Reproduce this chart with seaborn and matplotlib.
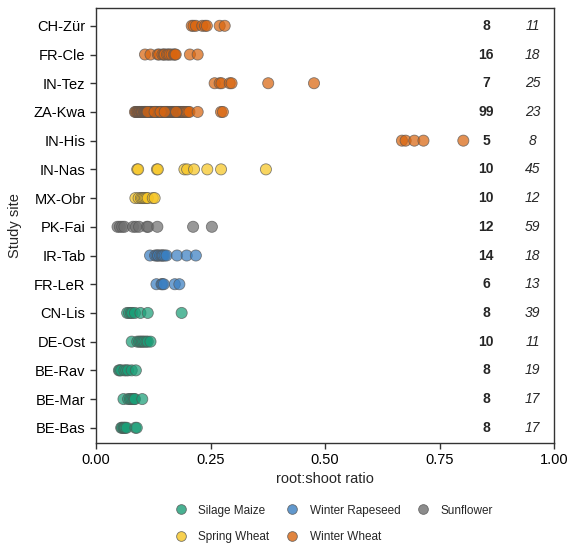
import matplotlib
matplotlib.use("Agg")
import matplotlib.pyplot as plt
import seaborn as sns
import pandas as pd
from matplotlib.lines import Line2D

sites = ["CH-Zür", "FR-Cle", "IN-Tez", "ZA-Kwa", "IN-His", "IN-Nas", "MX-Obr",
         "PK-Fai", "IR-Tab", "FR-LeR", "CN-Lis", "DE-Ost", "BE-Rav", "BE-Mar", "BE-Bas"]
site_crop = ["Winter Wheat", "Winter Wheat", "Winter Wheat", "Winter Wheat", "Winter Wheat",
             "Spring Wheat", "Spring Wheat", "Sunflower", "Winter Rapeseed", "Winter Rapeseed",
             "Silage Maize", "Silage Maize", "Silage Maize", "Silage Maize", "Silage Maize"]
n_obs = [8, 16, 7, 99, 5, 10, 10, 12, 14, 6, 8, 10, 8, 8, 8]
cv_vals = [11, 18, 25, 23, 8, 45, 12, 59, 18, 13, 39, 11, 19, 17, 17]

crops = ["Silage Maize", "Winter Rapeseed", "Sunflower", "Spring Wheat", "Winter Wheat"]
crop_colors = ["#1b9e77", "#3a7fc1", "#707070", "#f6c523", "#d9650f"]

ch_zur = [0.209, 0.213, 0.218, 0.232, 0.238, 0.242, 0.270, 0.281]
fr_cle = [0.107, 0.119, 0.135, 0.138, 0.145, 0.148, 0.150, 0.155, 0.158, 0.161,
          0.165, 0.170, 0.172, 0.174, 0.205, 0.222]
in_tez = [0.259, 0.270, 0.274, 0.292, 0.296, 0.376, 0.476]
za_kwa = [0.085, 0.087, 0.089, 0.091, 0.092, 0.094, 0.095, 0.096, 0.098, 0.099,
          0.100, 0.101, 0.102, 0.104, 0.105, 0.106, 0.107, 0.108, 0.109, 0.110,
          0.111, 0.112, 0.113, 0.115, 0.116, 0.117, 0.118, 0.119, 0.120, 0.121,
          0.122, 0.123, 0.125, 0.126, 0.127, 0.128, 0.129, 0.130, 0.131, 0.132,
          0.133, 0.134, 0.136, 0.137, 0.138, 0.139, 0.140, 0.141, 0.142, 0.143,
          0.144, 0.146, 0.147, 0.148, 0.149, 0.150, 0.151, 0.152, 0.153, 0.154,
          0.155, 0.156, 0.157, 0.158, 0.160, 0.161, 0.162, 0.163, 0.165, 0.166,
          0.168, 0.169, 0.171, 0.172, 0.173, 0.175, 0.176, 0.178, 0.180, 0.181,
          0.183, 0.185, 0.186, 0.188, 0.190, 0.191, 0.193, 0.196, 0.198, 0.201,
          0.204, 0.113, 0.128, 0.141, 0.150, 0.175, 0.222, 0.273, 0.277]
in_his = [0.668, 0.676, 0.695, 0.715, 0.802]
in_nas = [0.090, 0.092, 0.133, 0.135, 0.193, 0.199, 0.214, 0.243, 0.273, 0.371]
mx_obr = [0.086, 0.093, 0.098, 0.101, 0.104, 0.107, 0.110, 0.113, 0.124, 0.128]
pk_fai = [0.047, 0.052, 0.057, 0.062, 0.081, 0.087, 0.094, 0.111, 0.114, 0.134, 0.212, 0.253]
ir_tab = [0.118, 0.129, 0.132, 0.135, 0.136, 0.140, 0.143, 0.145, 0.147, 0.150,
          0.154, 0.177, 0.198, 0.218]
fr_ler = [0.132, 0.143, 0.145, 0.148, 0.172, 0.182]
cn_lis = [0.068, 0.072, 0.076, 0.079, 0.085, 0.097, 0.113, 0.187]
de_ost = [0.078, 0.090, 0.094, 0.097, 0.100, 0.103, 0.106, 0.110, 0.113, 0.119]
be_rav = [0.050, 0.052, 0.055, 0.062, 0.066, 0.070, 0.078, 0.087]
be_mar = [0.060, 0.070, 0.074, 0.077, 0.080, 0.083, 0.085, 0.101]
be_bas = [0.055, 0.057, 0.060, 0.062, 0.064, 0.067, 0.086, 0.089]

site_values = [ch_zur, fr_cle, in_tez, za_kwa, in_his, in_nas, mx_obr, pk_fai,
               ir_tab, fr_ler, cn_lis, de_ost, be_rav, be_mar, be_bas]

rows = []
for s, c, vals in zip(sites, site_crop, site_values):
    for v in vals:
        rows.append({"site": s, "crop": c, "ratio": v})
df = pd.DataFrame(rows)

sns.set_theme(style="ticks")
plt.rcParams["font.family"] = ["Liberation Sans", "DejaVu Sans"]

fig = plt.figure(figsize=(5.69, 5.46), dpi=100)
ax = fig.add_axes([96 / 569, 1 - 443 / 546, 458 / 569, 435 / 546])

palette = dict(zip(crops, crop_colors))
sns.stripplot(data=df, x="ratio", y="site", hue="crop", order=sites, hue_order=crops,
              palette=palette, jitter=False, dodge=False, size=8, alpha=0.72,
              edgecolor="#555555", linewidth=0.6, ax=ax, legend=False)

ax.set_xlim(0, 1.0)
ax.set_ylim(14.53, -0.62)
ax.set_xticks([0, 0.25, 0.5, 0.75, 1.0])
ax.set_xticklabels(["0.00", "0.25", "0.50", "0.75", "1.00"])
ax.tick_params(axis="both", labelsize=10.5, length=4, width=1, color="#333333", labelcolor="black")
for sp in ax.spines.values():
    sp.set_visible(True)
    sp.set_color("#333333")
    sp.set_linewidth(1.0)
ax.set_xlabel("root:shoot ratio", fontsize=10.5, labelpad=3)
ax.set_ylabel("Study site", fontsize=10.5, labelpad=8)

for i, (n, cv) in enumerate(zip(n_obs, cv_vals)):
    ax.text(0.852, i, str(n), ha="center", va="center", fontsize=10, fontweight="bold")
    ax.text(0.953, i, str(cv), ha="center", va="center", fontsize=10, fontstyle="italic")

order = [0, 3, 1, 4, 2]
handles = [Line2D([], [], marker="o", linestyle="", markersize=7,
                  markerfacecolor=crop_colors[k], markeredgecolor="#555555",
                  markeredgewidth=0.6, alpha=0.8, label=crops[k]) for k in order]
fig.legend(handles=handles, ncol=3, loc="upper center", bbox_to_anchor=(331 / 569, 1 - 494 / 546),
           frameon=False, fontsize=8.5, handlelength=2.0, handletextpad=0.45,
           columnspacing=0.95, labelspacing=1.25, borderpad=0.4)

fig.savefig("out.png", dpi=100)
